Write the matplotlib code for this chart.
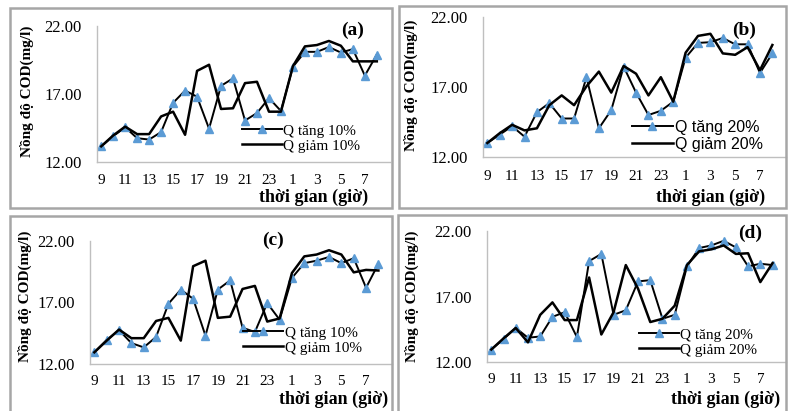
import matplotlib
matplotlib.use("Agg")
import matplotlib.pyplot as plt
from matplotlib.patches import Rectangle

plt.rcParams['font.family'] = ['Liberation Serif', 'DejaVu Serif']

# categories: hour of day, 9h -> 8h next morning
hours = [9, 10, 11, 12, 13, 14, 15, 16, 17, 18, 19, 20, 21, 22, 23,
         0, 1, 2, 3, 4, 5, 6, 7, 8]
tick_hours = [9, 11, 13, 15, 17, 19, 21, 23, 1, 3, 5, 7]
y_ticks = [12, 17, 22]

# (a) +/- 10%
a_tang = [13.15, 13.9, 14.55, 13.75, 13.65, 14.2, 16.35, 17.25, 16.8, 14.45, 17.6, 18.15,
          15.05, 15.6, 16.7, 15.75, 19.0, 20.1, 20.1, 20.45, 20.05, 20.3, 18.35, 19.9]
a_giam = [13.15, 13.95, 14.6, 14.05, 14.05, 15.35, 15.7, 14.0, 18.7, 19.15, 15.9, 15.95,
          17.8, 17.9, 15.7, 15.7, 19.05, 20.5, 20.6, 20.9, 20.55, 19.4, 19.4, 19.4]
# (b) +/- 20%
b_tang = [13.0, 13.6, 14.2, 13.45, 15.2, 15.85, 14.75, 14.75, 17.7, 14.05, 15.35, 18.45,
          16.6, 15.0, 15.3, 15.95, 19.1, 20.15, 20.2, 20.5, 20.05, 20.05, 18.0, 19.4]
b_giam = [13.0, 13.7, 14.3, 13.9, 14.05, 15.7, 16.4, 15.7, 17.05, 18.1, 16.6, 18.5,
          17.95, 16.4, 17.7, 15.95, 19.45, 20.65, 20.8, 19.4, 19.3, 19.85, 18.2, 20.0]
# (c) +/- 10%
c_tang = [12.95, 13.95, 14.75, 13.7, 13.35, 14.2, 16.9, 18.05, 17.3, 14.3, 18.05, 18.8,
          14.95, 14.6, 16.95, 15.6, 19.0, 20.2, 20.4, 20.7, 20.2, 20.6, 18.2, 20.15]
c_giam = [12.95, 13.9, 14.8, 14.1, 14.1, 15.5, 15.75, 13.9, 19.95, 20.4, 15.75, 15.85,
          18.1, 18.35, 15.45, 15.7, 19.4, 20.75, 20.9, 21.25, 20.9, 19.45, 19.65, 19.6]
# (d) +/- 20%
d_tang = [12.95, 13.75, 14.6, 13.85, 13.95, 15.45, 15.8, 13.9, 19.7, 20.25, 15.6, 15.95,
          18.15, 18.25, 15.3, 15.6, 19.3, 20.7, 20.9, 21.25, 20.75, 19.3, 19.5, 19.4]
d_giam = [12.95, 13.8, 14.6, 13.5, 15.6, 16.55, 15.2, 15.2, 18.45, 14.1, 15.8, 19.4,
          17.6, 15.05, 15.3, 16.3, 19.4, 20.45, 20.6, 20.9, 20.25, 20.3, 18.1, 19.55]

panels = [
    # axes box / frame / text anchors in pixels from the top-left corner
    dict(tag='(a)', tang=a_tang, giam=a_giam, pct='10%', box=(97, 26, 390, 162),
         frame=(10, 8, 392, 208), tag_xy=(353, 30), ylab_xy=(27, 91), xlab_xy=(368, 197),
         leg=(0.93, 0.0), leg_font='Liberation Serif', leg_size=11),
    dict(tag='(b)', tang=b_tang, giam=b_giam, pct='20%', box=(483, 17, 786, 157),
         frame=(399, 6, 786, 208), tag_xy=(744, 30), ylab_xy=(411, 85), xlab_xy=(765, 197),
         leg=(0.955, -0.03), leg_font='Liberation Sans', leg_size=11.5),
    dict(tag='(c)', tang=c_tang, giam=c_giam, pct='10%', box=(90, 241, 392, 364),
         frame=(10, 216, 392, 425), tag_xy=(273, 240), ylab_xy=(25, 296), xlab_xy=(388, 399),
         leg=(0.93, 0.0), leg_font='Liberation Serif', leg_size=11),
    dict(tag='(d)', tang=d_tang, giam=d_giam, pct='20%', box=(487, 231, 786, 362),
         frame=(398, 215, 786, 425), tag_xy=(750, 233), ylab_xy=(412, 296), xlab_xy=(780, 399),
         leg=(0.935, -0.03), leg_font='Liberation Serif', leg_size=11),
]

W, H = 788, 411
fig = plt.figure(figsize=(W / 100, H / 100), dpi=100)


def fx(x):
    return x / W


def fy(y):
    return 1 - y / H


for p in panels:
    fl, ft, fr, fb = p['frame']
    fig.patches.append(Rectangle((fx(fl), fy(fb)), fx(fr - fl), (fb - ft) / H,
                                 transform=fig.transFigure, fill=False,
                                 edgecolor='#a6a6a6', linewidth=1.8))

    l, t, r, b = p['box']
    ax = fig.add_axes([fx(l), fy(b), fx(r - l), (b - t) / H])
    x = range(len(hours))
    ax.plot(x, p['tang'], color='black', linewidth=1.4, marker='^', markersize=6,
            markerfacecolor='#5b9bd5', markeredgecolor='#5b9bd5',
            label='Q tăng ' + p['pct'])
    ax.plot(x, p['giam'], color='black', linewidth=1.8, label='Q giảm ' + p['pct'])

    ax.set_ylim(12, 22)
    ax.set_xlim(-0.35, len(hours) + 0.1)
    ax.set_yticks(y_ticks)
    ax.set_yticklabels([f'{v:.2f}' for v in y_ticks], fontsize=12)
    ax.set_xticks([hours.index(h) for h in tick_hours])
    ax.set_xticklabels([str(h) for h in tick_hours], fontsize=11)
    ax.tick_params(axis='y', length=0, pad=11)
    ax.tick_params(axis='x', length=0, pad=9 if b < 200 else 8)
    for s in ('top', 'right'):
        ax.spines[s].set_visible(False)
    for s in ('left', 'bottom'):
        ax.spines[s].set_color('#bfbfbf')
        ax.spines[s].set_linewidth(1.0)
    ax.patch.set_alpha(0)

    ax.legend(loc='lower right', bbox_to_anchor=p['leg'], frameon=False,
              handlelength=2.6, handletextpad=0.1, labelspacing=0.1, borderaxespad=0.2,
              prop={'family': p['leg_font'], 'size': p['leg_size']})

    fig.text(fx(p['tag_xy'][0]), fy(p['tag_xy'][1]), p['tag'], fontsize=14,
             fontweight='bold', ha='center', va='center')
    fig.text(fx(p['ylab_xy'][0]), fy(p['ylab_xy'][1]), 'Nồng độ COD(mg/l)', fontsize=11,
             fontweight='bold', rotation=90, ha='center', va='center')
    fig.text(fx(p['xlab_xy'][0]), fy(p['xlab_xy'][1]), 'thời gian (giờ)', fontsize=13,
             fontweight='bold', ha='right', va='center')

fig.savefig('out.png', dpi=100)
